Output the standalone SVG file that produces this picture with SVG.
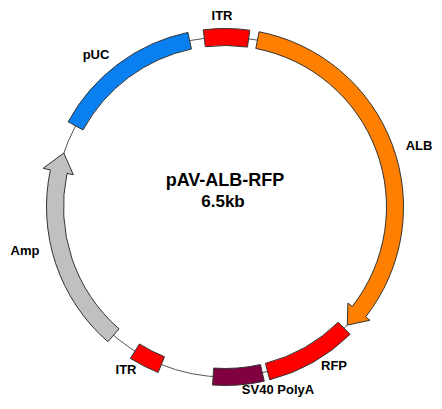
<svg xmlns="http://www.w3.org/2000/svg" width="442" height="409" viewBox="0 0 442 409">
<style>
.feat{stroke:#333;stroke-width:1;stroke-linejoin:miter}
.lbl{font-family:"Liberation Sans",Arial,sans-serif;font-weight:bold;font-size:13px;fill:#000;text-anchor:middle}
.title{font-family:"Liberation Sans",Arial,sans-serif;font-weight:bold;fill:#000;text-anchor:middle}
</style>
<rect width="442" height="409" fill="#fff"/>
<g id="connectors">
<circle cx="225" cy="207" r="170" fill="none" stroke="#555" stroke-width="1"/>
</g>
<g id="itr-top">
<path class="feat" fill="#FF0000" d="M203.25,29.83 A178.5,178.5 0 0 1 249.84,30.24 L247.48,47.07 A161.5,161.5 0 0 0 205.32,46.70 Z"/>
<text class="lbl" x="222" y="20">ITR</text>
</g>
<g id="alb">
<path class="feat" fill="#FF8000" d="M259.06,31.78 A178.5,178.5 0 0 1 365.66,316.90 L370.0,320.28 L347.29,325.09 L347.93,303.04 L352.26,306.43 A161.5,161.5 0 0 0 255.82,48.47 Z"/>
<text class="lbl" x="419" y="150">ALB</text>
</g>
<g id="rfp">
<path class="feat" fill="#FF0000" d="M350.11,334.32 A178.5,178.5 0 0 1 269.69,379.81 L265.44,363.36 A161.5,161.5 0 0 0 338.20,322.19 Z"/>
<text class="lbl" x="334" y="370">RFP</text>
</g>
<g id="sv40">
<path class="feat" fill="#800040" d="M264.24,381.13 A178.5,178.5 0 0 1 212.55,385.06 L213.73,368.11 A161.5,161.5 0 0 0 260.51,364.55 Z"/>
<text class="lbl" x="278" y="394">SV40 PolyA</text>
</g>
<g id="itr-bottom">
<path class="feat" fill="#FF0000" d="M158.13,372.50 A178.5,178.5 0 0 1 130.41,358.38 L139.42,343.96 A161.5,161.5 0 0 0 164.50,356.74 Z"/>
<text class="lbl" x="126" y="374">ITR</text>
</g>
<g id="amp">
<path class="feat" fill="#C0C0C0" d="M107.89,341.72 A178.5,178.5 0 0 1 50.40,169.89 L43.06,168.33 L63.79,153.06 L73.39,174.77 L67.03,173.42 A161.5,161.5 0 0 0 119.05,328.89 Z"/>
<text class="lbl" x="25" y="255">Amp</text>
</g>
<g id="puc">
<path class="feat" fill="#0A80F0" d="M68.13,121.83 A178.5,178.5 0 0 1 187.89,32.40 L191.42,49.03 A161.5,161.5 0 0 0 83.07,129.94 Z"/>
<text class="lbl" x="96" y="59">pUC</text>
</g>
<g id="title">
<text class="title" x="225" y="186" font-size="18">pAV-ALB-RFP</text>
<text class="title" x="223" y="207" font-size="17">6.5kb</text>
</g>
</svg>
